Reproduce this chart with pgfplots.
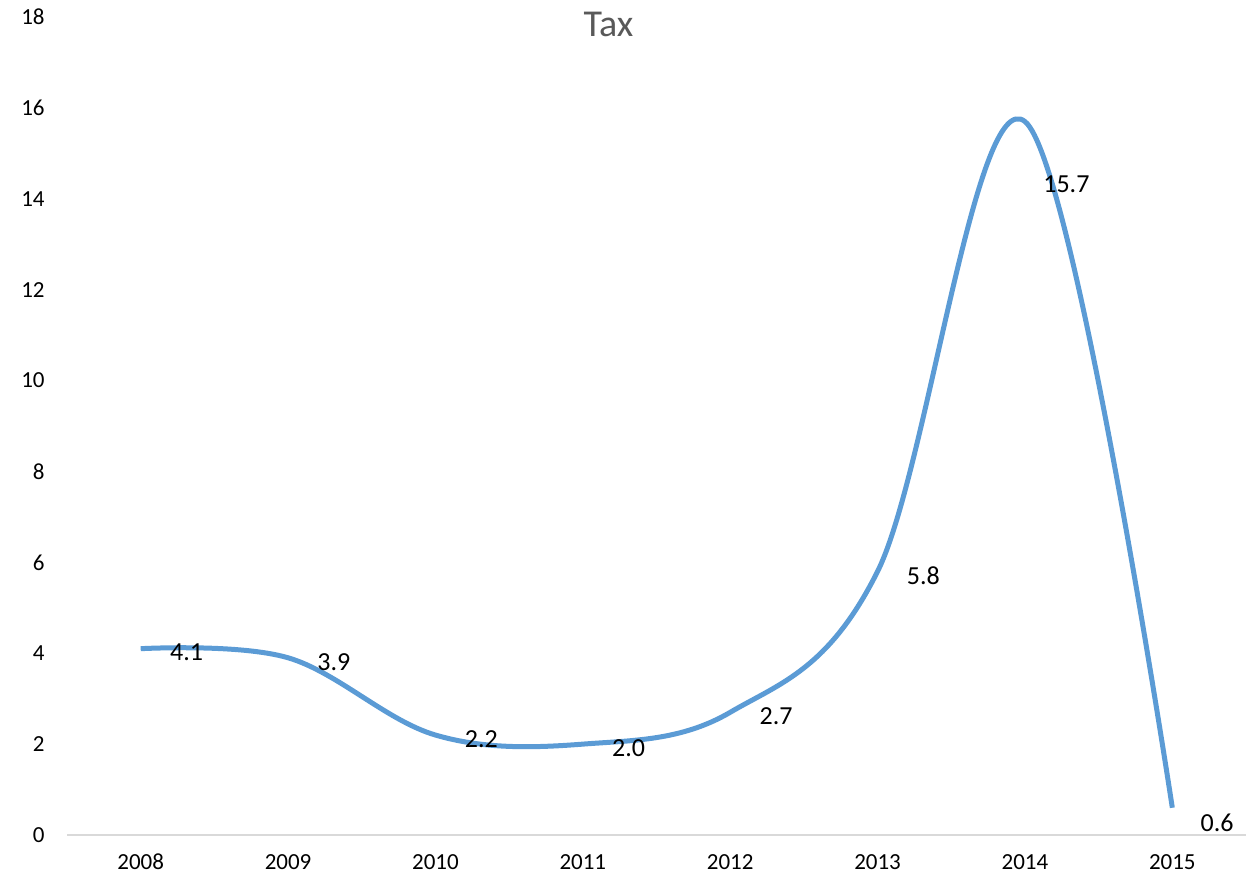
\documentclass[border=0pt]{standalone}
\usepackage{fontspec}
\setmainfont{Carlito}
\usepackage{pgfplots}
\pgfplotsset{compat=1.18}
\definecolor{linec}{HTML}{5B9BD5}
\definecolor{axc}{HTML}{D9D9D9}
\definecolor{titc}{HTML}{595959}
\begin{document}
\begin{tikzpicture}
\begin{axis}[
  name=ax,
  scale only axis,
  width=589.5pt, height=409pt,
  xmin=-0.5, xmax=7.5,
  ymin=0, ymax=18,
  ytick={0,2,...,18},
  xtick={0,...,7},
  xticklabels={2008,2009,2010,2011,2012,2013,2014,2015},
  axis x line=bottom,
  axis y line=none,
  x axis line style={draw=axc, line width=1pt, -},
  major tick length=0pt,
  /pgf/number format/assume math mode=true,
  x tick label style={font=\fontsize{11.5}{13}\selectfont, anchor=base, inner sep=0pt, yshift=-17pt},
  y tick label style={font=\fontsize{11.5}{13}\selectfont, anchor=east, inner sep=0pt},
  clip=false,
]
\addplot[color=linec, line width=2.5pt, smooth, tension=0.6, mark=none]
  coordinates {(0,4.1) (1,3.9) (2,2.2) (3,2.0) (4,2.7) (5,5.8) (6,15.7) (7,0.6)};
\addplot[draw=none, mark=none, point meta=explicit symbolic,
  nodes near coords,
  nodes near coords style={anchor=west, inner sep=0pt, xshift=14.5pt, yshift=-2pt, font=\fontsize{13}{15}\selectfont, text=black}]
  coordinates {(0,4.1)[4.1] (1,3.9)[3.9] (2,2.2)[2.2] (3,2.0)[2.0] (4,2.7)[2.7] (5,5.8)[5.8]};
\addplot[draw=none, mark=none, point meta=explicit symbolic,
  nodes near coords,
  nodes near coords style={anchor=west, inner sep=0pt, xshift=9pt, yshift=-31.5pt, font=\fontsize{13}{15}\selectfont, text=black}]
  coordinates {(6,15.7)[15.7]};
\addplot[draw=none, mark=none, point meta=explicit symbolic,
  nodes near coords,
  nodes near coords style={anchor=west, inner sep=0pt, xshift=14pt, yshift=-7.5pt, font=\fontsize{13}{15}\selectfont, text=black}]
  coordinates {(7,0.6)[0.6]};
\foreach \v in {0,2,...,18} {
  \edef\tmp{\noexpand\node[anchor=east, inner sep=0pt, font=\noexpand\fontsize{11.5}{13}\noexpand\selectfont] at ([xshift=-11pt]axis cs:-0.5,\v) {\v};}
  \tmp
}
\node[anchor=base, text=titc, font=\fontsize{19}{22}\selectfont, inner sep=0pt] at (axis cs:3.174,17.58) {Tax};
\end{axis}
\pgfresetboundingbox
\path ([xshift=-33.5pt,yshift=-18.5pt]ax.south west) rectangle ([yshift=8.5pt]ax.north east);
\end{tikzpicture}
\end{document}
